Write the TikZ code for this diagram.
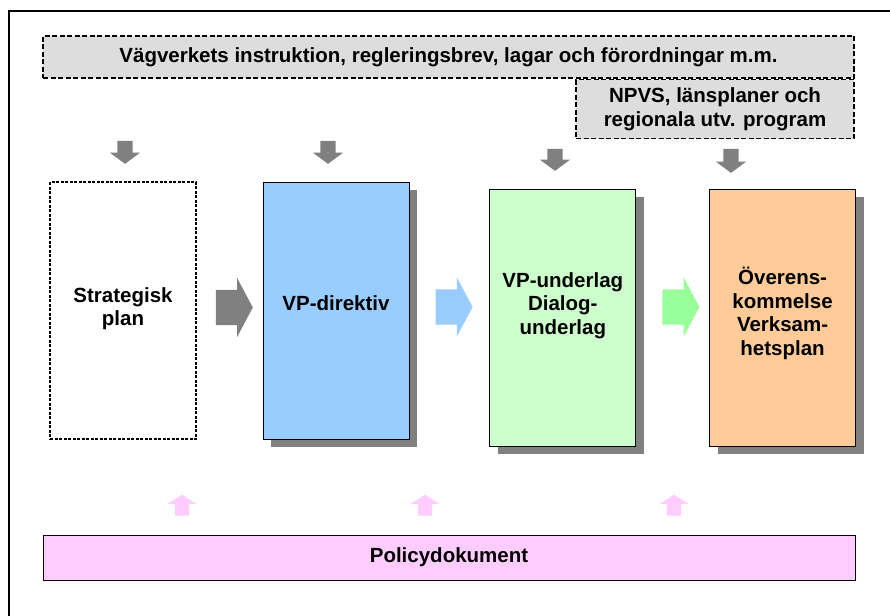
\documentclass[tikz,border=0pt]{standalone}
\usepackage{fontspec}
\setmainfont{Liberation Sans}
\usetikzlibrary{shapes,shapes.arrows,shadows,positioning,calc}
\definecolor{vpblue}{HTML}{99CCFF}
\definecolor{vpgreen}{HTML}{CCFFCC}
\definecolor{vporange}{HTML}{FFCC99}
\definecolor{vppink}{HTML}{FFCCFF}
\definecolor{vpgrey}{HTML}{DDDDDD}
\definecolor{arrowgrey}{HTML}{808080}
\definecolor{arrowgreen}{HTML}{99FF99}

\begin{document}
\begin{tikzpicture}[x=1pt,y=-1pt,
	font=\fontsize{20.5}{23.5}\selectfont\bfseries]
	
	\tikzstyle{planbox}=[rectangle, minimum width=146pt, minimum height=257pt,
	inner sep=0pt, draw=black, line width=0.8pt, align=center]
	\tikzstyle{shadowbox}=[planbox, drop shadow={shadow xshift=8pt,
	shadow yshift=-8pt, fill=arrowgrey, opacity=1}]
	\tikzstyle{docbox}=[rectangle, inner sep=0pt, fill=vpgrey, draw=black,
	line width=1.6pt, dash pattern=on 5pt off 2.5pt, align=center]
	\tikzstyle{policybox}=[rectangle, minimum width=812pt, minimum height=45pt,
	inner sep=0pt, fill=vppink, draw=black, line width=0.8pt]
	\tikzstyle{blockarrow}=[single arrow, draw=none, inner xsep=0pt, minimum width=0pt]
	\tikzstyle{rightarrow}=[blockarrow, inner ysep=17.5pt, single arrow head extend=12pt,
	minimum height=37pt, single arrow tip angle=124]
	\tikzstyle{downarrow}=[blockarrow, fill=arrowgrey, rotate=-90, inner ysep=7.5pt,
	single arrow head extend=7.5pt, minimum height=23pt, single arrow tip angle=107]
	\tikzstyle{uparrow}=[blockarrow, fill=vppink, rotate=90, inner ysep=7pt,
	single arrow head extend=7pt, minimum height=21pt, single arrow tip angle=115]
	
	\useasboundingbox (0,0) rectangle (890,615);
	%frame
	\draw[line width=1.2pt] (9,640) -- (9,11) -- (910,11);
	
	%documents on top
	\node[docbox, minimum width=811pt, minimum height=42pt]
	(rules) at (448.5,57)
	{Vägverkets instruktion, regleringsbrev, lagar och förordningar m.m.};
	
	\node[docbox, minimum width=278pt, minimum height=59pt]
	(npvs) [below=0pt of rules.south east, anchor=north east]
	{NPVS, länsplaner och\\regionala utv. program};
	
	%plan boxes
	\node[planbox, line width=1.2pt, dash pattern=on 3pt off 1.5pt,
	label={[yshift=2pt, align=center]center:Strategisk\\plan}]
	(strat) at (123,310.5) {};
	
	\node[shadowbox, fill=vpblue,
	label={[yshift=7pt]center:VP-direktiv}]
	(direktiv) [right=66pt of strat] {};
	
	\node[shadowbox, fill=vpgreen, yshift=-7pt,
	label={[yshift=12pt, align=center]center:VP-underlag\\Dialog-\\underlag}]
	(underlag) [right=80pt of direktiv] {};
	
	\node[shadowbox, fill=vporange,
	label={[yshift=4pt, align=center]center:Överens-\\kommelse\\Verksam-\\hetsplan}]
	(overens) [right=73pt of underlag] {};
	
	%policy
	\node[policybox] (policy) at (449,557.5) {Policydokument};
	
	%arrows between the boxes
	\node[rightarrow, fill=arrowgrey, yshift=3pt]
	(stratArrow) at ($(strat.east)!0.5!(direktiv.west)$) {};
	\node[rightarrow, fill=vpblue, yshift=7pt]
	(direktivArrow) at ($(direktiv.east)!0.5!(underlag.west)$) {};
	\node[rightarrow, fill=arrowgreen, xshift=3.5pt, yshift=10.5pt]
	(underlagArrow) at ($(underlag.east)!0.5!(overens.west)$) {};
	
	%arrows from the documents
	\node[downarrow] (downA) at (125,149.5) {};
	\node[downarrow] (downB) at (328,149.5) {};
	\node[downarrow, minimum height=22pt] (downC) at (555,157) {};
	\node[downarrow, minimum height=24pt] (downD) at (731,158) {};
	
	%arrows from the policy
	\node[uparrow] (upA) at (182,507.5) {};
	\node[uparrow] (upB) at (425,507.5) {};
	\node[uparrow] (upC) at (674,507.5) {};
	
\end{tikzpicture}
\end{document}
